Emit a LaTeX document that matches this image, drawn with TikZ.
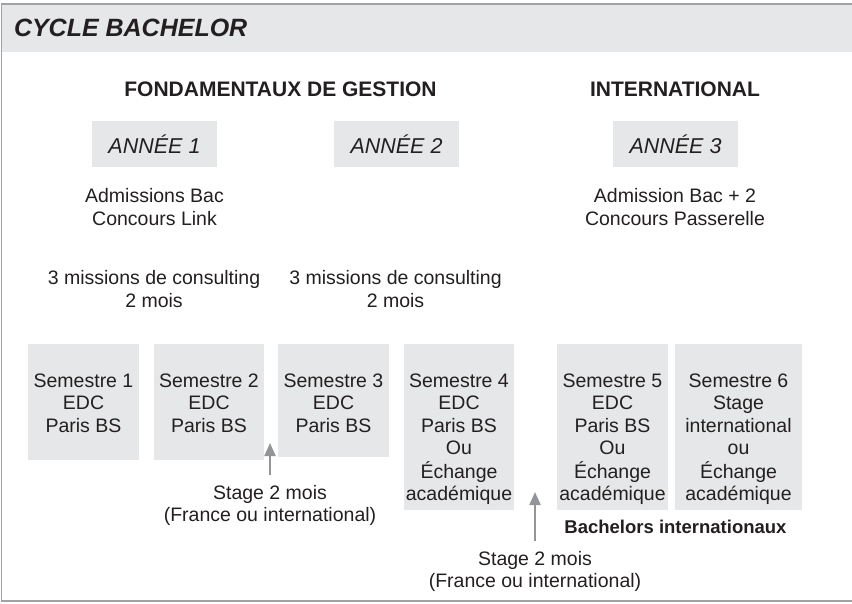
\documentclass[tikz,border=0pt]{standalone}
\usepackage{fontspec}
\setmainfont{Liberation Sans}
\usetikzlibrary{arrows.meta}
\definecolor{boxgray}{HTML}{E6E7E8}
\definecolor{linegray}{HTML}{A0A2A5}
\definecolor{arrgray}{HTML}{939598}
\definecolor{ink}{HTML}{231F20}
\newcommand{\mylines}[1]{\begin{tabular}[t]{@{}c@{}}#1\end{tabular}}
\begin{document}
\begin{tikzpicture}[x=1pt,y=-1pt,
  every node/.style={inner sep=0pt, outer sep=0pt, text=ink},
  body/.style={font=\fontsize{19.5}{22.5}\selectfont, anchor=base},
  heading/.style={font=\fontsize{21}{25}\selectfont\bfseries, anchor=base},
  titletext/.style={font=\fontsize{25}{30}\selectfont\bfseries\itshape, anchor=base west},
  yearbox/.style={fill=boxgray, minimum width=125pt, minimum height=46pt, anchor=north west,
    font=\fontsize{21.5}{25}\selectfont\itshape},
  sembox/.style={fill=boxgray, anchor=north west},
  frameline/.style={draw=linegray, line width=1.5pt},
  uparrow/.style={draw=arrgray, line width=2pt, -{Triangle[length=13pt,width=11pt]}},
  boldnote/.style={font=\fontsize{18.5}{22}\selectfont\bfseries, anchor=base}
]
\useasboundingbox (0,0) rectangle (852,604);

% header band and frame
\fill[boxgray] (1.5,4) rectangle (852,52);
\draw[frameline] (852,4) -- (1.5,4) -- (1.5,601) -- (852,601);
\node[titletext] (title) at (14,36.5) {CYCLE BACHELOR};

% section headings
\node[heading] (hfond) at (280.5,97) {FONDAMENTAUX DE GESTION};
\node[heading] (hinter) at (675,97) {INTERNATIONAL};

% years
\node[yearbox] (an1) at (92,121) {ANNÉE 1};
\node[yearbox] (an2) at (334,121) {ANNÉE 2};
\node[yearbox] (an3) at (613,121) {ANNÉE 3};

% admissions
\node[body] (adm1) at (154.5,203) {\mylines{Admissions Bac\\Concours Link}};
\node[body] (adm3) at (675,203) {\mylines{Admission Bac + 2\\Concours Passerelle}};

% consulting missions
\node[body] (cons1) at (154,285) {\mylines{3 missions de consulting\\2 mois}};
\node[body] (cons2) at (395.5,285) {\mylines{3 missions de consulting\\2 mois}};

% semester boxes
\node[sembox, minimum width=111pt, minimum height=116pt] (s1) at (28,344) {};
\node[sembox, minimum width=110pt, minimum height=116pt] (s2) at (154,344) {};
\node[sembox, minimum width=111pt, minimum height=113pt] (s3) at (278,344) {};
\node[sembox, minimum width=110pt, minimum height=166pt] (s4) at (404,344) {};
\node[sembox, minimum width=111pt, minimum height=166pt] (s5) at (557,344) {};
\node[sembox, minimum width=127pt, minimum height=166pt] (s6) at (675,344) {};

\node[body] (t1) at (83.5,387) {\mylines{Semestre 1\\EDC\\Paris BS}};
\node[body] (t2) at (209,387) {\mylines{Semestre 2\\EDC\\Paris BS}};
\node[body] (t3) at (333.5,387) {\mylines{Semestre 3\\EDC\\Paris BS}};
\node[body] (t4) at (459,387) {\mylines{Semestre 4\\EDC\\Paris BS\\Ou\\Échange\\académique}};
\node[body] (t5) at (612.5,387) {\mylines{Semestre 5\\EDC\\Paris BS\\Ou\\Échange\\académique}};
\node[body] (t6) at (738.5,387) {\mylines{Semestre 6\\Stage\\international\\ou\\Échange\\académique}};

\node[boldnote] (bint) at (675.5,533) {Bachelors internationaux};

% internships
\node[body] (st1) at (270,499) {\mylines{Stage 2 mois\\(France ou international)}};
\node[body] (st2) at (535,565) {\mylines{Stage 2 mois\\(France ou international)}};
\coordinate (tip1) at (270,443);
\coordinate (tip2) at (535,492);
\draw[uparrow] ([yshift=8pt]st1.north) -- (tip1);
\draw[uparrow] ([yshift=8pt]st2.north) -- (tip2);
\end{tikzpicture}
\end{document}
